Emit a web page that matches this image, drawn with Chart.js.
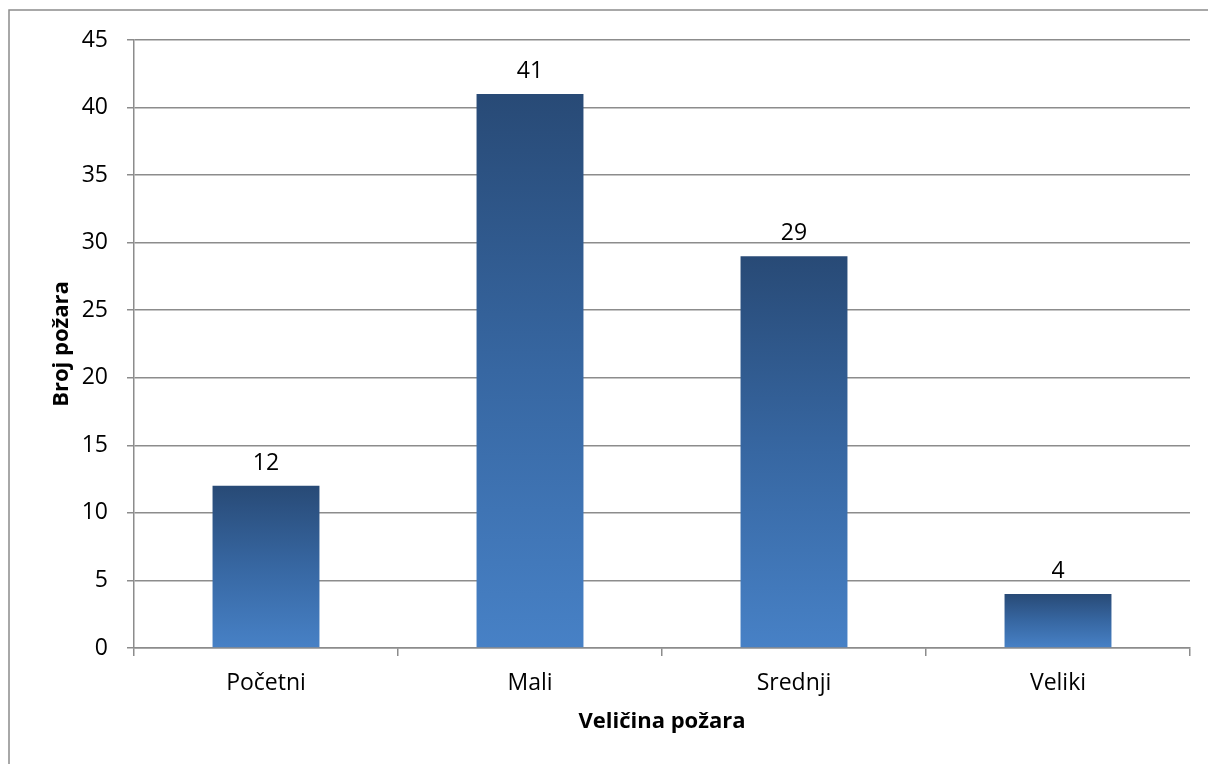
<!DOCTYPE html>
<html>
<head>
<meta charset="utf-8">
<script src="https://cdn.jsdelivr.net/npm/chart.js@4/dist/chart.umd.min.js"></script>
<style>
  html, body { margin: 0; padding: 0; background: #fff; }
  #wrap { width: 1208px; height: 764px; position: relative; }
</style>
</head>
<body>
<div id="wrap"><canvas id="myChart" width="1208" height="764"></canvas></div>
<script>
// podaci
const categories = ['Početni', 'Mali', 'Srednji', 'Veliki'];
const fireCounts = [12, 41, 29, 4];
const yTicks = [0, 5, 10, 15, 20, 25, 30, 35, 40, 45];

const gridColor = '#8c8c8c';
const fontFamily = '"Open Sans", "Noto Sans", sans-serif';

// gradient po stupcu, od vrha do baze
function barGradient(c) {
  const chart = c.chart;
  const { ctx, chartArea, scales } = chart;
  if (!chartArea || c.raw === undefined) return '#4680c4';
  const top = scales.y.getPixelForValue(c.raw);
  const base = scales.y.getPixelForValue(0);
  const g = ctx.createLinearGradient(0, top, 0, base);
  g.addColorStop(0, '#284a76');
  g.addColorStop(0.5, '#3767a2');
  g.addColorStop(1, '#4781c6');
  return g;
}

// okvir oko grafikona
const framePlugin = {
  id: 'frame',
  beforeDraw(chart) {
    const c = chart.ctx;
    c.save();
    c.strokeStyle = gridColor;
    c.lineWidth = 1.5;
    c.strokeRect(9, 10, 1400, 1000);
    c.restore();
  }
};

// oznake vrijednosti iznad stupaca
const labelPlugin = {
  id: 'valueLabels',
  afterDatasetsDraw(chart) {
    const c = chart.ctx;
    const meta = chart.getDatasetMeta(0);
    c.save();
    c.font = `23px ${fontFamily}`;
    c.fillStyle = '#000';
    c.textAlign = 'center';
    c.textBaseline = 'bottom';
    meta.data.forEach((bar, i) => {
      c.fillText(fireCounts[i], bar.x, bar.y - 11);
    });
    c.restore();
  }
};

const ctx = document.getElementById('myChart').getContext('2d');
new Chart(ctx, {
  type: 'bar',
  data: {
    labels: categories,
    datasets: [{
      label: 'Broj požara',
      data: fireCounts,
      backgroundColor: barGradient,
      borderWidth: 0,
      barPercentage: 0.405,
      categoryPercentage: 1
    }]
  },
  options: {
    responsive: false,
    animation: false,
    layout: { padding: { top: 40, right: 18, left: 0, bottom: 0 } },
    plugins: {
      legend: { display: false },
      tooltip: { enabled: false }
    },
    scales: {
      x: {
        afterFit: (s) => { s.height = 116; },
        grid: {
          display: true,
          offset: true,
          drawOnChartArea: false,
          drawTicks: true,
          tickLength: 8,
          color: gridColor,
          lineWidth: 1.5
        },
        border: { display: true, color: gridColor, width: 1.5 },
        ticks: {
          color: '#000',
          padding: 14,
          font: { family: fontFamily, size: 23 }
        },
        title: {
          display: true,
          text: 'Veličina požara',
          color: '#000',
          font: { family: fontFamily, size: 22, weight: 'bold' },
          padding: { top: 0, bottom: 29 }
        }
      },
      y: {
        min: 0,
        max: 45,
        afterFit: (s) => { s.width = 134; },
        afterBuildTicks: (s) => { s.ticks = yTicks.map(v => ({ value: v })); },
        grid: {
          color: gridColor,
          lineWidth: 1.5,
          drawTicks: true,
          tickLength: 7
        },
        border: { display: true, color: gridColor, width: 1.5 },
        ticks: {
          color: '#000',
          padding: 19,
          font: { family: fontFamily, size: 23 }
        },
        title: {
          display: true,
          text: 'Broj požara',
          color: '#000',
          font: { family: fontFamily, size: 22, weight: 'bold' },
          padding: { top: 49, bottom: 0 }
        }
      }
    }
  },
  plugins: [framePlugin, labelPlugin]
});
</script>
</body>
</html>
